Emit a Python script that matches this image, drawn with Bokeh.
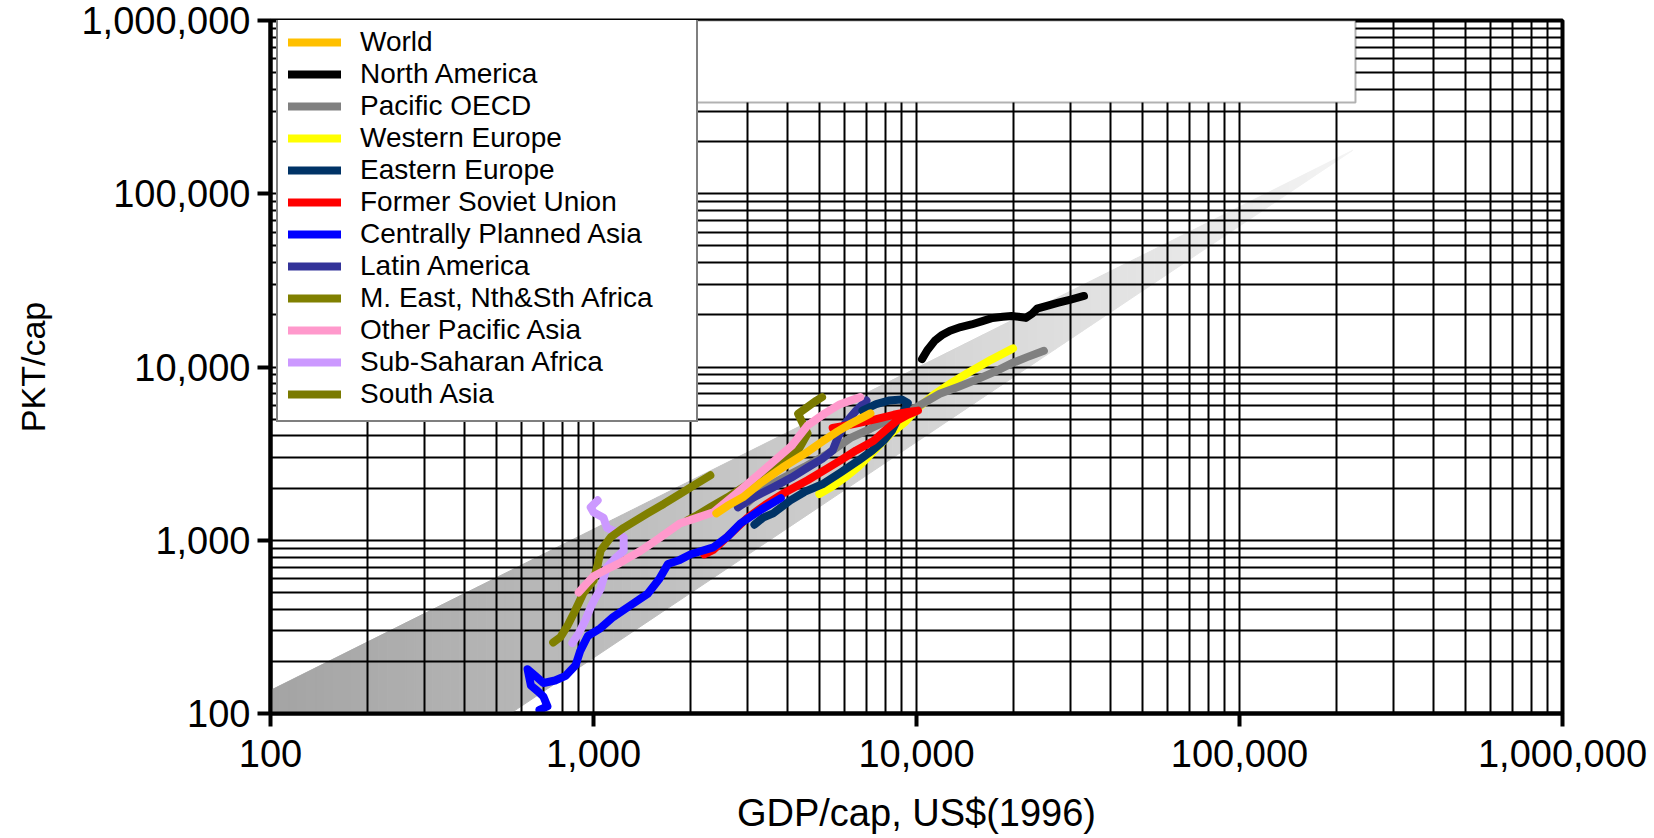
from bokeh.plotting import figure
from bokeh.models import Legend, LegendItem, BoxAnnotation, NumeralTickFormatter, FixedTicker
from bokeh.embed import file_html
from bokeh.resources import INLINE
import math

# ---------------- data ----------------
world_x = [2400, 2600, 2900, 3300, 3850, 4500, 5150, 5700, 6250, 6800, 7200]
world_y = [1430, 1580, 1770, 2150, 2630, 3150, 3750, 4250, 4700, 5100, 5400]

na_x = [10400, 10800, 11400, 12000, 12700, 13700, 14800, 16000, 17200, 18500, 19700,
        20700, 21800, 22800, 23600, 25500, 27500, 30000, 33000]
na_y = [11100, 12500, 14200, 15300, 16200, 17000, 17600, 18400, 19200, 19500, 19700,
        19500, 19200, 20300, 21700, 22600, 23500, 24500, 25700]

pac_x = [3000, 3300, 3800, 4500, 5300, 6250, 7200, 8100, 9000, 9900, 11800, 13500,
         15200, 17500, 19700, 22000, 24800]
pac_y = [1650, 1950, 2250, 2650, 3150, 3900, 4400, 4900, 5300, 5800, 7000, 7700,
         8400, 9400, 10500, 11400, 12400]

we_x = [5000, 5500, 6000, 6600, 7300, 8300, 9200, 10100, 11300, 12700, 14500, 17000, 19900]
we_y = [1850, 2050, 2300, 2650, 3200, 4100, 4800, 5800, 6900, 8000, 9300, 11000, 12800]

ee_x = [3150, 3350, 3600, 4070, 4500, 5150, 5800, 6600, 7300, 7900, 8400, 8700, 9100,
        9400, 9000, 8200, 7500, 6800]
ee_y = [1230, 1350, 1430, 1700, 1900, 2120, 2450, 2880, 3300, 3740, 4300, 4900, 5500,
        6200, 6500, 6400, 6100, 5600]

fsu_x = [2200, 2350, 2600, 3000, 3400, 3860, 4600, 5200, 5800, 6500, 7350, 8000, 8700,
         9400, 10100, 9400, 8500, 7500, 6600, 5900, 5500]
fsu_y = [830, 880, 1050, 1350, 1600, 1860, 2220, 2550, 2880, 3300, 3740, 4300, 4900,
         5300, 5600, 5500, 5300, 5000, 4750, 4550, 4450]

cpa_x = [690, 680, 720, 700, 670, 640, 625, 660, 700, 760, 820, 880, 910, 960, 1050,
         1150, 1300, 1470, 1600, 1700, 1850, 2000, 2350, 2600, 2850, 3300, 3800]
cpa_y = [95, 105, 110, 125, 135, 145, 180, 165, 150, 155, 165, 190, 230, 280, 310,
         360, 420, 490, 600, 730, 770, 830, 910, 1050, 1250, 1500, 1750]

la_x = [2800, 3100, 3600, 4100, 4600, 5100, 5500, 5700, 6000, 6500, 7000]
la_y = [1550, 1750, 2020, 2300, 2630, 2950, 3300, 3900, 4700, 5600, 6400]

me_x = [750, 790, 830, 870, 930, 1000, 1030, 1052, 1130, 1240, 1470, 1650, 1860, 2050, 2300]
me_y = [257, 276, 320, 380, 494, 585, 720, 870, 1040, 1180, 1430, 1620, 1860, 2080, 2370]

opa_x = [900, 950, 1000, 1100, 1200, 1400, 1600, 1850, 2100, 2350, 2850, 3450, 4100,
         4600, 5200, 5800, 6700]
opa_y = [500, 560, 620, 680, 735, 870, 1030, 1250, 1350, 1450, 1950, 2650, 3500,
         4600, 5400, 6100, 6700]

ssa_x = [860, 900, 940, 980, 1010, 1050, 1100, 1170, 1240, 1240, 1170, 1100, 1074,
         1000, 980, 1030]
ssa_y = [255, 290, 340, 410, 460, 520, 700, 790, 870, 1040, 1120, 1180, 1350,
         1450, 1550, 1700]

sa_x = [1950, 2100, 2300, 2600, 3000, 3500, 4000, 4300, 4600, 4300, 4900, 5100]
sa_y = [1300, 1400, 1550, 1770, 2100, 2550, 3000, 3300, 4130, 5370, 6400, 6700]

legend_labels = ["World", "North America", "Pacific OECD", "Western Europe",
                 "Eastern Europe", "Former Soviet Union", "Centrally Planned Asia",
                 "Latin America", "M. East, Nth&Sth Africa", "Other Pacific Asia",
                 "Sub-Saharan Africa", "South Asia"]

tick_values = [100, 1000, 10000, 100000, 1000000]

# shaded trend band (edges)
band_start_x, band_start_top = 100, 136
band_floor_x = 553
band_tip_x, band_tip_y = 224000, 178000

# ---------------- figure ----------------
p = figure(width=1654, height=838, x_axis_type="log", y_axis_type="log",
           x_range=(100, 1e6), y_range=(100, 1e6),
           output_backend="svg", toolbar_location=None,
           min_border_left=270, min_border_right=92,
           min_border_top=20, min_border_bottom=125)
p.background_fill_color = "white"
p.border_fill_color = "white"
p.outline_line_color = "black"
p.outline_line_width = 4

minor = [m * 10 ** e for e in range(2, 6) for m in range(2, 10)]
for ax in (p.xaxis[0], p.yaxis[0]):
    ax.ticker = FixedTicker(ticks=tick_values, minor_ticks=minor)
    ax.formatter = NumeralTickFormatter(format="0,0")
    ax.axis_line_color = "black"
    ax.axis_line_width = 4
    ax.major_tick_line_color = "black"
    ax.major_tick_line_width = 4
    ax.major_tick_out = 13
    ax.major_tick_in = 0
    ax.minor_tick_out = 0
    ax.minor_tick_in = 0
    ax.major_label_text_font = "Liberation Sans"
    ax.major_label_text_font_size = "38px"
    ax.major_label_text_color = "black"
    ax.axis_label_text_font = "Liberation Sans"
    ax.axis_label_text_font_size = "38px"
    ax.axis_label_text_font_style = "normal"
    ax.axis_label_text_color = "black"

p.xaxis.axis_label = "GDP/cap, US$(1996)"
p.yaxis.axis_label = "PKT/cap"
p.yaxis.axis_label_text_font_size = "34px"
p.xaxis.major_label_standoff = 13
p.yaxis.major_label_standoff = 7
p.xaxis.axis_label_standoff = 22
p.yaxis.axis_label_standoff = 26

for g in (p.xgrid[0], p.ygrid[0]):
    g.grid_line_color = "black"
    g.grid_line_width = 2
    g.minor_grid_line_color = "black"
    g.minor_grid_line_width = 2

# gradient band drawn as thin slices
lx0, ly0 = math.log10(band_start_x), math.log10(band_start_top)
ltx, lty = math.log10(band_tip_x), math.log10(band_tip_y)
lfx = math.log10(band_floor_x)


def up(l):
    return ly0 + (lty - ly0) * (l - lx0) / (ltx - lx0)


def lo(l):
    return max(2.0, 2.0 + (lty - 2.0) * (l - lfx) / (ltx - lfx))


N = 120
xs, ys, cols = [], [], []
for i in range(N):
    a = lx0 + (ltx - lx0) * i / N
    b = lx0 + (ltx - lx0) * (i + 1) / N
    xs.append([10 ** a, 10 ** b, 10 ** b, 10 ** a])
    ys.append([10 ** lo(a), 10 ** lo(b), 10 ** up(b), 10 ** up(a)])
    t = (a + b) / 2 - 2
    g = int(min(250, 164 + 24 * t))
    cols.append("#%02x%02x%02x" % (g, g, g))
p.patches(xs, ys, fill_color=cols, line_color=cols, line_width=1, level="image")

series = {
    "World": (world_x, world_y, "#ffc000"),
    "North America": (na_x, na_y, "#000000"),
    "Pacific OECD": (pac_x, pac_y, "#808080"),
    "Western Europe": (we_x, we_y, "#ffff00"),
    "Eastern Europe": (ee_x, ee_y, "#003366"),
    "Former Soviet Union": (fsu_x, fsu_y, "#ff0000"),
    "Centrally Planned Asia": (cpa_x, cpa_y, "#0000ff"),
    "Latin America": (la_x, la_y, "#333399"),
    "M. East, Nth&Sth Africa": (me_x, me_y, "#808000"),
    "Other Pacific Asia": (opa_x, opa_y, "#ff99cc"),
    "Sub-Saharan Africa": (ssa_x, ssa_y, "#cc99ff"),
    "South Asia": (sa_x, sa_y, "#7a7a00"),
}
draw_order = ["Western Europe", "South Asia", "Sub-Saharan Africa", "M. East, Nth&Sth Africa",
              "Pacific OECD", "Latin America", "Eastern Europe", "Former Soviet Union",
              "Centrally Planned Asia", "North America", "Other Pacific Asia", "World"]
rends = {}
for name in draw_order:
    x, y, c = series[name]
    rends[name] = p.line(x, y, line_color=c, line_width=8, line_join="round", line_cap="round")

# empty header box at top
p.add_layout(BoxAnnotation(left=2055, right=228600, bottom=336600, top=1e6,
                           fill_color="white", fill_alpha=1.0,
                           line_color="black", line_width=2, level="annotation"))

legend = Legend(items=[LegendItem(label=n, renderers=[rends[n]]) for n in legend_labels],
                location=(6, 291), padding=10, spacing=0, margin=0,
                glyph_width=53, glyph_height=32, label_height=32, label_width=326,
                label_standoff=19, label_text_font="Liberation Sans",
                label_text_font_size="28px", label_text_color="black",
                border_line_color="black", border_line_width=2,
                background_fill_color="white", background_fill_alpha=1.0)
p.add_layout(legend)

open("out.html", "w").write(file_html(p, INLINE))
